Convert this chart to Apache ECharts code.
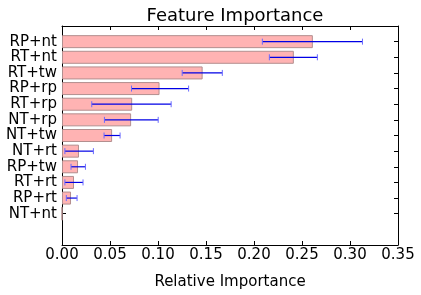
<!DOCTYPE html>
<html>
<head>
<meta charset="utf-8">
<script src="https://cdn.jsdelivr.net/npm/echarts@6/dist/echarts.min.js"></script>
<style>html,body{margin:0;padding:0;background:#fff}#c{width:421px;height:295px}</style>
</head>
<body>
<div id="c"></div>
<script>
// categories from bottom to top ('' = empty padding slots)
var categories = ['', '', 'NT+nt', 'RP+rt', 'RT+rt', 'RP+tw', 'NT+rt', 'NT+tw', 'NT+rp', 'RT+rp', 'RP+rp', 'RT+tw', 'RT+nt', 'RP+nt', ''];
var importance = ['-', '-', 0.0, 0.0094, 0.0125, 0.0167, 0.0177, 0.0522, 0.072, 0.0731, 0.1016, 0.1465, 0.2415, 0.2613, '-'];
var errLow =  [null, null, null, 0.0045, 0.003, 0.0094, 0.003, 0.0438, 0.0442, 0.031, 0.0724, 0.1252, 0.216, 0.2087, null];
var errHigh = [null, null, null, 0.0157, 0.0219, 0.0244, 0.0327, 0.0605, 0.1002, 0.1137, 0.1319, 0.167, 0.266, 0.313, null];
var xTicks = [0, 0.05, 0.10, 0.15, 0.20, 0.25, 0.30, 0.35];

var errData = [];
for (var i = 0; i < categories.length; i++) {
  if (errLow[i] !== null) errData.push([i, errLow[i], errHigh[i]]);
}

var chart = echarts.init(document.getElementById('c'), null, {renderer: 'canvas'});
var font = 'DejaVu Sans';
var tickShow = function (idx, val) { return val !== ''; };
chart.setOption({
  animation: false,
  title: {
    text: 'Feature Importance', left: 230, top: 2, textAlign: 'center',
    textStyle: {fontFamily: font, fontSize: 18, fontWeight: 'normal', color: '#000'}
  },
  grid: {left: 62, right: 23, top: 26, bottom: 46},
  xAxis: [{
    type: 'value', min: 0, max: 0.35, interval: 0.05,
    name: 'Relative Importance', nameLocation: 'middle', nameGap: 30,
    nameTextStyle: {fontFamily: font, fontSize: 15, color: '#000'},
    axisLine: {show: true, lineStyle: {color: '#000', width: 1}},
    axisTick: {show: true, inside: true, length: 4, lineStyle: {color: '#000'}},
    axisLabel: {fontFamily: font, fontSize: 15, color: '#000', margin: 3,
      formatter: function (v) { return v.toFixed(2); }},
    splitLine: {show: false}
  }, {
    type: 'value', position: 'top', min: 0, max: 0.35, interval: 0.05,
    axisLine: {show: true, lineStyle: {color: '#000', width: 1}},
    axisTick: {show: true, inside: true, length: 4, lineStyle: {color: '#000'}},
    axisLabel: {show: false}, splitLine: {show: false}
  }],
  yAxis: [{
    type: 'category', data: categories, boundaryGap: false,
    axisLine: {show: true, onZero: false, lineStyle: {color: '#000', width: 1}},
    axisTick: {show: true, inside: true, length: 4, interval: tickShow, lineStyle: {color: '#000'}},
    axisLabel: {fontFamily: font, fontSize: 15, color: '#000', margin: 5, interval: 0},
    splitLine: {show: false}
  }, {
    type: 'category', data: categories, boundaryGap: false, position: 'right',
    axisLine: {show: true, onZero: false, lineStyle: {color: '#000', width: 1}},
    axisTick: {show: true, inside: true, length: 4, interval: tickShow, lineStyle: {color: '#000'}},
    axisLabel: {show: false}, splitLine: {show: false}
  }],
  series: [{
    type: 'bar', data: importance, barWidth: 13,
    itemStyle: {color: '#ffb3b3', borderColor: '#b38f8f', borderWidth: 1},
    z: 2
  }, {
    type: 'custom', data: errData, z: 5,
    encode: {y: 0, x: [1, 2]},
    renderItem: function (params, api) {
      var cat = api.value(0);
      var p1 = api.coord([api.value(1), cat]);
      var p2 = api.coord([api.value(2), cat]);
      var h = 3;
      return {
        type: 'group',
        children: [
          {type: 'line', shape: {x1: p1[0], y1: p1[1], x2: p2[0], y2: p2[1]},
           style: {stroke: '#0000e6', lineWidth: 1.2}},
          {type: 'line', shape: {x1: p1[0], y1: p1[1] - h, x2: p1[0], y2: p1[1] + h},
           style: {stroke: '#6a6aff', lineWidth: 1}},
          {type: 'line', shape: {x1: p2[0], y1: p2[1] - h, x2: p2[0], y2: p2[1] + h},
           style: {stroke: '#6a6aff', lineWidth: 1}}
        ]
      };
    }
  }]
});
</script>
</body>
</html>
